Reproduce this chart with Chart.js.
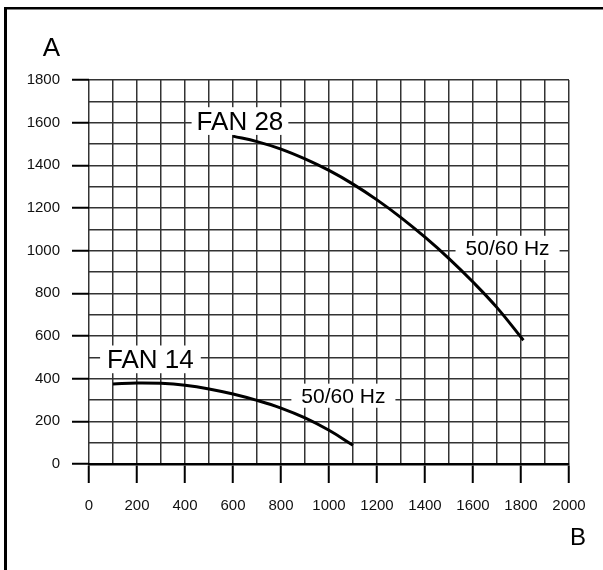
<!DOCTYPE html>
<html>
<head>
<meta charset="utf-8">
<script src="https://cdn.jsdelivr.net/npm/chart.js@4"></script>
<style>
  body { margin: 0; background: #fff; }
  #wrap { position: relative; width: 603px; height: 570px; }
</style>
</head>
<body>
<div id="wrap"><canvas id="fanChart" width="603" height="570"></canvas></div>
<script>
// Daten der Kennlinien (B = Volumenstrom, A = Strom)
const fan28X = [600, 700, 800, 900, 1000, 1100, 1200, 1300, 1400, 1500, 1600, 1700, 1810];
const fan28Y = [1537, 1511, 1476, 1430, 1376, 1312, 1238, 1155, 1063, 963, 853, 733, 580];
const fan14X = [100, 200, 300, 400, 500, 600, 700, 800, 900, 1000, 1100];
const fan14Y = [375, 380, 378, 369, 352, 328, 298, 262, 216, 158, 88];

const xTicks = [0, 200, 400, 600, 800, 1000, 1200, 1400, 1600, 1800, 2000];
const yTicks = [0, 200, 400, 600, 800, 1000, 1200, 1400, 1600, 1800];

// Beschriftungen im Diagramm (Datenkoordinaten)
const notes = [
    { text: "FAN 28", x: 629, y: 1566, size: 26, padX: 5 },
    { text: "FAN 14", x: 256, y: 449, size: 26, padX: 7 },
    { text: "50/60 Hz", x: 1744, y: 980, size: 21, padX: 10 },
    { text: "50/60 Hz", x: 1060, y: 287, size: 21, padX: 10 },
];

const FONT = "'Liberation Sans', Arial, Helvetica, sans-serif";

function toPoints(xs, ys) {
    return xs.map((x, i) => ({ x: x, y: ys[i] }));
}

// Rahmen, Achsenbuchstaben und Textfelder
const decorPlugin = {
    id: "decor",
    beforeDraw(chart) {
        const ctx = chart.ctx;
        ctx.save();
        ctx.fillStyle = "#000";
        ctx.fillRect(4, 7, 3, 563);
        ctx.fillRect(4, 7, 599, 2.5);
        ctx.restore();
    },
    afterDatasetsDraw(chart) {
        const ctx = chart.ctx;
        const xs = chart.scales.x;
        const ys = chart.scales.y;
        ctx.save();
        notes.forEach((n) => {
            ctx.font = n.size + "px " + FONT;
            const w = ctx.measureText(n.text).width;
            const px = xs.getPixelForValue(n.x);
            const py = ys.getPixelForValue(n.y);
            const cap = n.size * 0.72;
            ctx.fillStyle = "#fff";
            ctx.fillRect(px - w / 2 - n.padX, py - cap - 4, w + 2 * n.padX, cap + 9);
            ctx.fillStyle = "#000";
            ctx.textAlign = "center";
            ctx.textBaseline = "alphabetic";
            ctx.fillText(n.text, px, py);
        });
        ctx.font = "26px " + FONT;
        ctx.textAlign = "center";
        ctx.fillText("A", 51.5, 56);
        ctx.font = "24px " + FONT;
        ctx.fillText("B", 578, 545);
        ctx.restore();
    },
};

const tickColor = (ctx) => (ctx.tick && ctx.tick.value % 200 === 0 ? "#000" : "rgba(0,0,0,0)");

new Chart(document.getElementById("fanChart"), {
    type: "line",
    data: {
        datasets: [
            {
                label: "FAN 28",
                data: toPoints(fan28X, fan28Y),
                borderColor: "#000",
                borderWidth: 3,
                pointRadius: 0,
                tension: 0.4,
            },
            {
                label: "FAN 14",
                data: toPoints(fan14X, fan14Y),
                borderColor: "#000",
                borderWidth: 3,
                pointRadius: 0,
                tension: 0.4,
            },
        ],
    },
    options: {
        responsive: false,
        animation: false,
        layout: { padding: { left: 0, top: 80, right: 34, bottom: 0 } },
        plugins: {
            legend: { display: false },
            tooltip: { enabled: false },
        },
        scales: {
            x: {
                type: "linear",
                min: 0,
                max: 2000,
                afterFit: (s) => { s.height = 106; },
                border: { color: "#000", width: 2.5 },
                grid: {
                    color: "#333",
                    lineWidth: 1.5,
                    tickLength: 19,
                    tickColor: tickColor,
                    tickWidth: 2,
                },
                ticks: {
                    stepSize: 100,
                    autoSkip: false,
                    maxRotation: 0,
                    padding: 14,
                    color: "#111",
                    font: { family: FONT, size: 15 },
                    callback: (v) => (xTicks.includes(v) ? String(v) : ""),
                },
            },
            y: {
                type: "linear",
                min: 0,
                max: 1800,
                afterFit: (s) => { s.width = 89; },
                border: { display: false },
                grid: {
                    color: "#333",
                    lineWidth: 1.5,
                    tickLength: 17,
                    tickColor: tickColor,
                    tickWidth: 2,
                },
                ticks: {
                    stepSize: 100,
                    autoSkip: false,
                    padding: 12,
                    color: "#111",
                    font: { family: FONT, size: 15 },
                    callback: (v) => (yTicks.includes(v) ? String(v) : ""),
                },
            },
        },
    },
    plugins: [decorPlugin],
});
</script>
</body>
</html>
